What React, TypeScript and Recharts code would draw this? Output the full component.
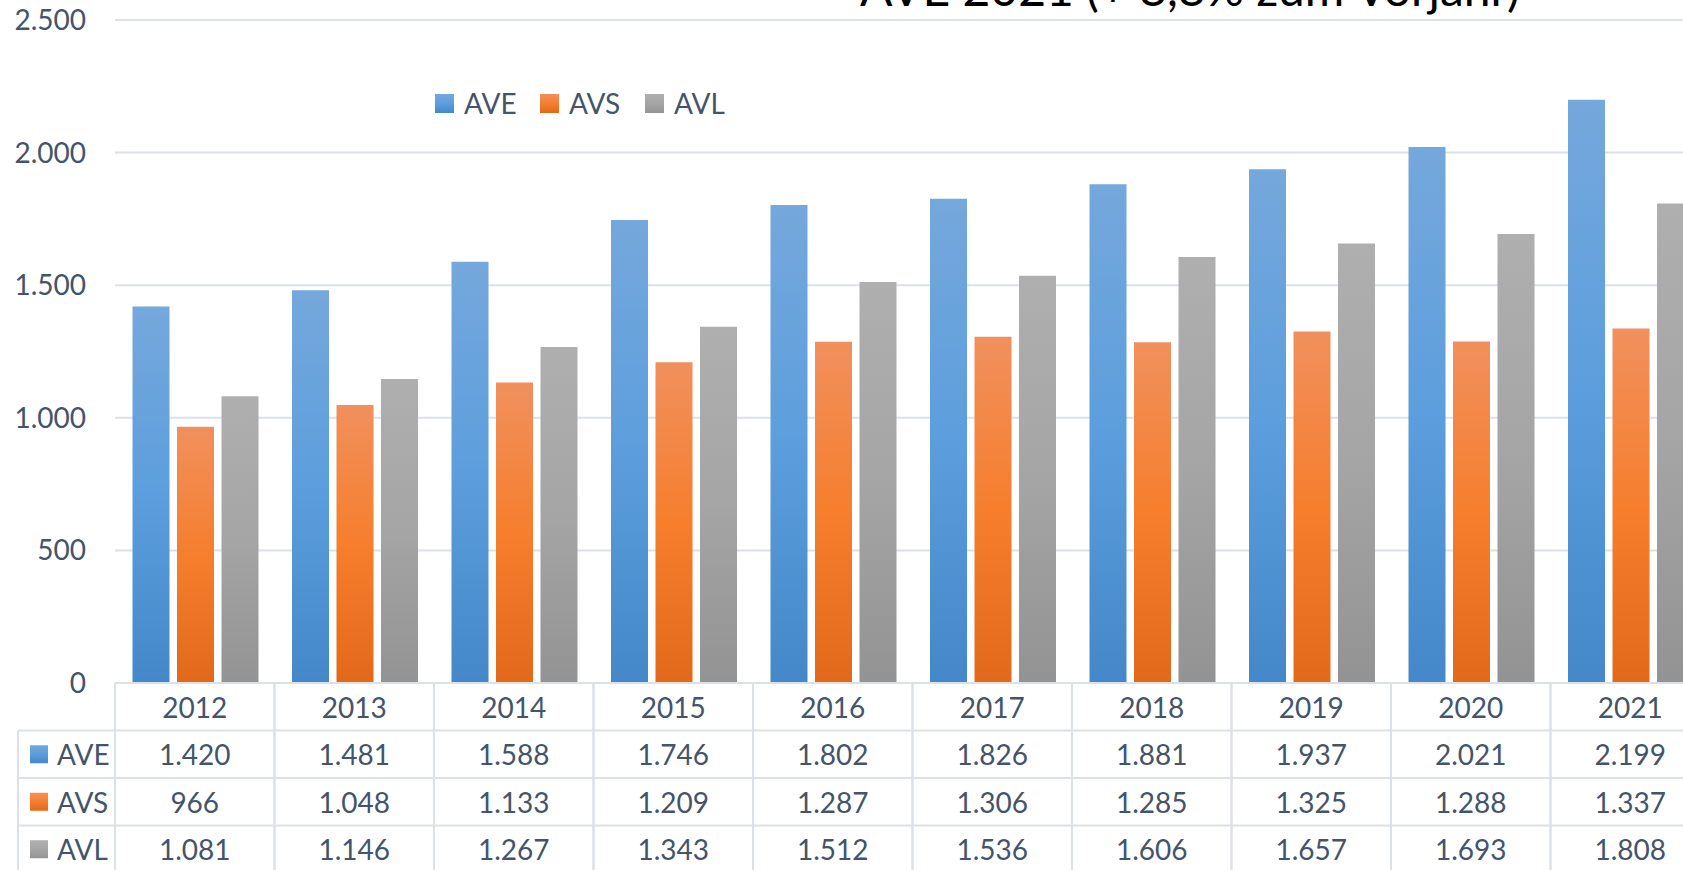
import React from "react";
import { BarChart, Bar, XAxis, YAxis, CartesianGrid, Legend } from "recharts";

const years = ["2012", "2013", "2014", "2015", "2016", "2017", "2018", "2019", "2020", "2021"];
const ave = [1420, 1481, 1588, 1746, 1802, 1826, 1881, 1937, 2021, 2199];
const avs = [966, 1048, 1133, 1209, 1287, 1306, 1285, 1325, 1288, 1337];
const avl = [1081, 1146, 1267, 1343, 1512, 1536, 1606, 1657, 1693, 1808];
const yTicks = [0, 500, 1000, 1500, 2000, 2500];

const SERIES = [
  { key: "AVE", values: ave, stops: ["#75A8DC", "#5C9EDD", "#4488C9"] },
  { key: "AVS", values: avs, stops: ["#F1905D", "#F67E2D", "#E3691A"] },
  { key: "AVL", values: avl, stops: ["#AFAFAF", "#A5A5A5", "#939393"] },
];

const data = years.map((year, i) => ({
  year,
  AVE: ave[i],
  AVS: avs[i],
  AVL: avl[i],
}));

const FONT = "Lato, 'Open Sans', sans-serif";
const TEXT = "#44546A";
const LINE = "#DCE1E8";
const ROW_H = 47.5;
const HEAD_LEFT = 18;

// german style thousands separator: 1420 -> "1.420"
function fmt(n: number) {
  if (n < 1000) return String(n);
  return `${Math.floor(n / 1000)}.${String(n % 1000).padStart(3, "0")}`;
}

function cssGradient(stops: string[]) {
  return `linear-gradient(to bottom, ${stops[0]}, ${stops[1]} 50%, ${stops[2]})`;
}

// the data table below the plot is drawn from the category axis ticks
function TableTick(props: any) {
  const { x, y, payload, index, width, visibleTicksCount } = props;
  const i = payload?.index ?? index;
  const bw = width && visibleTicksCount ? width / visibleTicksCount : 159.5;
  const left = x - bw / 2;
  const right = x + bw / 2;
  const cells = [years[i], fmt(ave[i]), fmt(avs[i]), fmt(avl[i])];
  const bottom = y + ROW_H * 4;

  return (
    <g>
      {[0, 1, 2, 3, 4].map((r) => (
        <line key={"h" + r} x1={left} x2={right} y1={y + r * ROW_H} y2={y + r * ROW_H} stroke={LINE} strokeWidth={2} />
      ))}
      <line x1={left} x2={left} y1={y} y2={bottom} stroke={LINE} strokeWidth={2} />
      <line x1={right} x2={right} y1={y} y2={bottom} stroke={LINE} strokeWidth={2} />
      {cells.map((c, r) => (
        <text
          key={"t" + r}
          x={x}
          y={y + r * ROW_H + ROW_H / 2}
          textAnchor="middle"
          dominantBaseline="central"
          fill={TEXT}
          fontSize={28}
          fontFamily={FONT}
        >
          {c}
        </text>
      ))}
      {i === 0 && (
        <g>
          {[1, 2, 3, 4].map((r) => (
            <line key={"rh" + r} x1={HEAD_LEFT} x2={left} y1={y + r * ROW_H} y2={y + r * ROW_H} stroke={LINE} strokeWidth={2} />
          ))}
          <line x1={HEAD_LEFT} x2={HEAD_LEFT} y1={y + ROW_H} y2={bottom} stroke={LINE} strokeWidth={2} />
          {SERIES.map((s, r) => {
            const cy = y + (r + 1) * ROW_H + ROW_H / 2;
            return (
              <g key={s.key}>
                <rect x={HEAD_LEFT + 12} y={cy - 9} width={18} height={18} fill={`url(#grad${s.key})`} />
                <text x={HEAD_LEFT + 39} y={cy} dominantBaseline="central" fill={TEXT} fontSize={28} fontFamily={FONT}>
                  {s.key}
                </text>
              </g>
            );
          })}
        </g>
      )}
    </g>
  );
}

function LegendContent() {
  return (
    <div style={{ display: "flex", fontFamily: FONT, fontSize: 28, color: TEXT, lineHeight: "19px" }}>
      {SERIES.map((s) => (
        <div key={s.key} style={{ display: "flex", alignItems: "center", width: 105 }}>
          <span style={{ display: "inline-block", width: 19, height: 19, background: cssGradient(s.stops) }} />
          <span style={{ marginLeft: 10 }}>{s.key}</span>
        </div>
      ))}
    </div>
  );
}

export default function App() {
  return (
    <div
      style={{
        position: "absolute",
        top: 0,
        left: 0,
        width: 1683,
        height: 870,
        overflow: "hidden",
        background: "#ffffff",
      }}
    >
      <div
        style={{
          position: "absolute",
          top: -36,
          left: 820,
          width: 740,
          textAlign: "center",
          fontFamily: FONT,
          fontSize: 48,
          lineHeight: 1,
          color: "#000000",
          whiteSpace: "nowrap",
          zIndex: 2,
        }}
      >
        AVE 2021 (+ 8,8% zum Vorjahr)
      </div>
      <BarChart
        width={1730}
        height={880}
        data={data}
        margin={{ top: 20, right: 20, bottom: 0, left: 0 }}
        barCategoryGap={17.5}
        barGap={7.5}
      >
        <defs>
          {SERIES.map((s) => (
            <linearGradient key={s.key} id={`grad${s.key}`} x1="0" y1="0" x2="0" y2="1">
              <stop offset="0%" stopColor={s.stops[0]} />
              <stop offset="50%" stopColor={s.stops[1]} />
              <stop offset="100%" stopColor={s.stops[2]} />
            </linearGradient>
          ))}
        </defs>
        <CartesianGrid vertical={false} stroke={LINE} strokeWidth={2} />
        <YAxis
          width={115}
          domain={[0, 2500]}
          ticks={yTicks}
          axisLine={false}
          tickLine={false}
          tickSize={0}
          tickMargin={29}
          tickFormatter={(v) => fmt(Number(v))}
          tick={{ fill: TEXT, fontSize: 28, fontFamily: FONT }}
        />
        <XAxis
          dataKey="year"
          height={197}
          axisLine={false}
          tickLine={false}
          tickSize={0}
          tickMargin={0}
          interval={0}
          tick={<TableTick />}
        />
        <Legend
          layout="horizontal"
          verticalAlign="middle"
          align="center"
          content={<LegendContent />}
          wrapperStyle={{ top: 94, left: 435, width: "auto" }}
        />
        {SERIES.map((s) => (
          <Bar key={s.key} dataKey={s.key} fill={`url(#grad${s.key})`} isAnimationActive={false} />
        ))}
      </BarChart>
    </div>
  );
}
